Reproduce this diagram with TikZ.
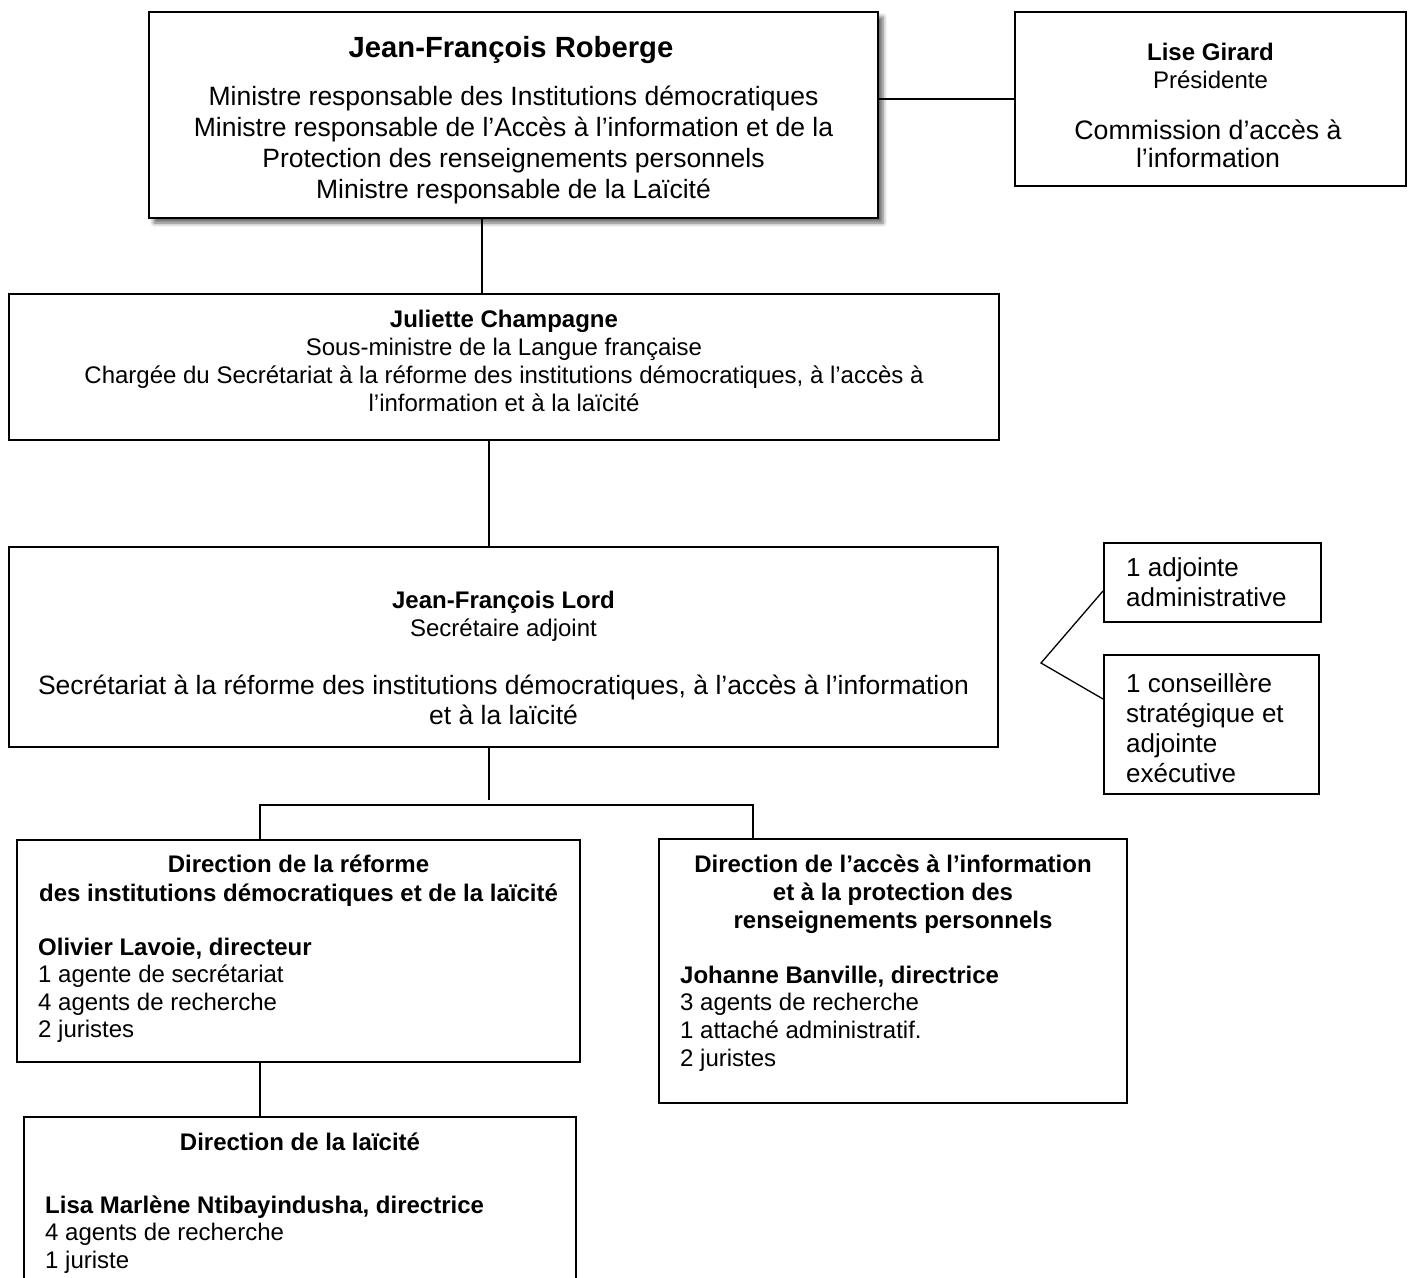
\documentclass[tikz,border=0pt]{standalone}
\usepackage{fontspec}
\setmainfont{Liberation Sans}
\usetikzlibrary{shadows.blur}
\begin{document}
\begin{tikzpicture}[x=1pt,y=-1pt,
  box/.style={draw, line width=2pt, inner sep=0pt, fill=white},
  conn/.style={line width=1.3pt},
  ctxt/.style={inner sep=0pt, align=center, anchor=north},
  ltxt/.style={inner sep=0pt, align=left, anchor=north west},
  fbig/.style={font=\fontsize{26.5}{31}\selectfont},
  fmid/.style={font=\fontsize{24}{28}\selectfont},
  fadj/.style={font=\fontsize{26}{30}\selectfont}]
\useasboundingbox (0,0) rectangle (1413,1277);
\clip (0,0) rectangle (1413,1277);

% --- top: minister
\node[box, minimum width=729pt, minimum height=206pt,
  blur shadow={shadow xshift=5pt, shadow yshift=-5pt, shadow blur radius=4pt, shadow opacity=60}]
  (top) at (513.5,115) {};
\node[inner sep=0pt, anchor=base, font=\fontsize{29.2}{33}\selectfont\bfseries] (topT) at (511,57.5) {Jean-François Roberge};
\node[ctxt, fbig] (topB) at (513.5,83.3) {\strut Ministre responsable des Institutions démocratiques\\
\strut Ministre responsable de l’Accès à l’information et de la\\
\strut Protection des renseignements personnels\\
\strut Ministre responsable de la Laïcité};

% --- Lise Girard
\node[box, minimum width=391pt, minimum height=174pt] (lise) at (1210.5,99) {};
\node[ctxt, font=\fontsize{24}{28}\selectfont] (liseA) at (1210.5,40.9) {\strut\textbf{Lise Girard}\\\strut Présidente};
\node[ctxt, font=\fontsize{26.7}{28.5}\selectfont] (liseB) at (1208,119) {\strut Commission d’accès à\\\strut l’information};

% --- Juliette Champagne
\node[box, minimum width=990pt, minimum height=146pt] (jul) at (504,367) {};
\node[ctxt, fmid] (julT) at (504,307.4) {\strut\textbf{Juliette Champagne}\\
\strut Sous-ministre de la Langue française\\
\strut Chargée du Secrétariat à la réforme des institutions démocratiques, à l’accès à\\
\strut l’information et à la laïcité};

% --- Jean-François Lord
\node[box, minimum width=989pt, minimum height=200pt] (lord) at (503.5,647) {};
\node[ctxt, fmid] (lordA) at (503.5,588.9) {\strut\textbf{Jean-François Lord}\\\strut Secrétaire adjoint};
\node[ctxt, font=\fontsize{26.5}{30.5}\selectfont] (lordB) at (503.5,672.6) {\strut Secrétariat à la réforme des institutions démocratiques, à l’accès à l’information\\
\strut et à la laïcité};

% --- adjointes
\node[box, minimum width=217pt, minimum height=79pt] (adjA) at (1212.5,582.5) {};
\node[ltxt, fadj] (adjAt) at (1126,555) {\strut 1 adjointe\\\strut administrative};
\node[box, minimum width=215pt, minimum height=139pt] (adjB) at (1211.5,724.5) {};
\node[ltxt, fadj] (adjBt) at (1126,671) {\strut 1 conseillère\\\strut stratégique et\\\strut adjointe\\\strut exécutive};

% --- Direction A
\node[box, minimum width=563pt, minimum height=222pt] (dirA) at (298.5,951) {};
\node[ctxt, font=\fontsize{24}{29}\selectfont\bfseries] (dirAt) at (298.5,851.7) {\strut Direction de la réforme\\
\strut des institutions démocratiques et de la laïcité};
\node[ltxt, font=\fontsize{24}{27.5}\selectfont] (dirAb) at (38,935.75) {\strut\textbf{Olivier Lavoie, directeur}\\
\strut 1 agente de secrétariat\\\strut 4 agents de recherche\\\strut 2 juristes};

% --- Direction B
\node[box, minimum width=468pt, minimum height=264pt] (dirB) at (893,971) {};
\node[ctxt, font=\fontsize{24}{28}\selectfont\bfseries] (dirBt) at (893,852.4) {\strut Direction de l’accès à l’information\\
\strut et à la protection des\\\strut renseignements personnels};
\node[ltxt, font=\fontsize{24}{27.7}\selectfont] (dirBb) at (680,963.6) {\strut\textbf{Johanne Banville, directrice}\\
\strut 3 agents de recherche\\\strut 1 attaché administratif.\\\strut 2 juristes};

% --- Direction C
\node[box, minimum width=552pt, minimum height=183pt] (dirC) at (300,1208.5) {};
\node[inner sep=0pt, anchor=base, font=\fontsize{24}{28}\selectfont\bfseries] (dirCt) at (300,1150) {Direction de la laïcité};
\node[ltxt, font=\fontsize{24}{27.5}\selectfont] (dirCb) at (45,1193.75) {\strut\textbf{Lisa Marlène Ntibayindusha, directrice}\\
\strut 4 agents de recherche\\\strut 1 juriste};

% --- connectors
\coordinate (busL) at (260,805);
\coordinate (busR) at (753,805);
\coordinate (vtx) at (1041,663);
\draw[conn] (lise.west -| top.east) -- (lise.west);
\draw[conn] ([xshift=-31.5pt]top.south) -- ([xshift=-31.5pt]top.south |- jul.north);
\draw[conn] ([xshift=-15pt]jul.south) -- ([xshift=-15pt]jul.south |- lord.north);
\draw[conn] ([xshift=-14.5pt]lord.south) -- ++(0,52);
\draw[conn] (dirA.north -| busL) -- (busL) -- (busR) -- (dirB.north -| busR);
\draw[conn] (dirA.south -| busL) -- (dirC.north -| busL);
\draw[conn] ([yshift=32pt]adjA.south west) -- (vtx) -- ([yshift=-45pt]adjB.north west);
\end{tikzpicture}
\end{document}
